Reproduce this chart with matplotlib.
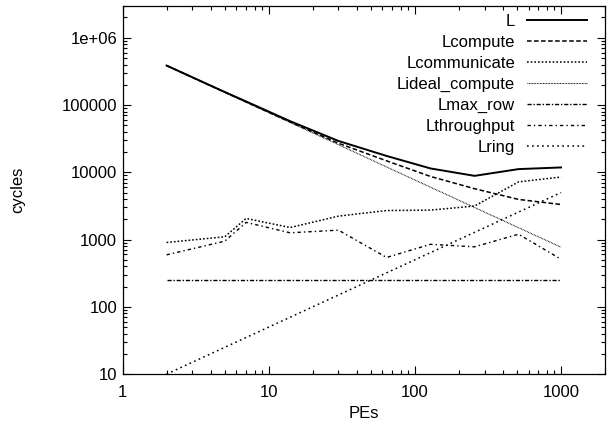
import matplotlib
matplotlib.use("Agg")
import matplotlib.pyplot as plt
from matplotlib.ticker import FixedLocator, LogLocator, NullFormatter

plt.rcParams["font.family"] = ["Liberation Sans", "DejaVu Sans"]

# === Data ===
pes = [2, 5, 7, 14, 30, 64, 128, 256, 512, 1000]
l_total = [386000, 156000, 113000, 57500, 29200, 17500, 11400, 8850, 11150, 11800]
l_compute = [385000, 155000, 111000, 56000, 27000, 14800, 8660, 5700, 3950, 3320]
l_communicate = [905, 1100, 2060, 1510, 2230, 2700, 2740, 3150, 7200, 8500]
l_ideal = [385000, 154000, 110000, 55000, 25700, 12000, 6000, 3000, 1500, 770]
l_max_row = [250, 250, 250, 250, 250, 250, 250, 250, 250, 250]
l_throughput = [593, 946, 1800, 1260, 1380, 542, 850, 780, 1200, 510]
l_ring = [10, 25, 35, 70, 150, 320, 640, 1280, 2560, 5000]

series = [
    ("L", l_total, "-", 1.4),
    ("Lcompute", l_compute, (0, (3.0, 1.6)), 1.1),
    ("Lcommunicate", l_communicate, (0, (1.1, 1.3)), 1.1),
    ("Lideal_compute", l_ideal, (0, (0.7, 0.7)), 0.8),
    ("Lmax_row", l_max_row, (0, (3.0, 1.3, 1.0, 1.3)), 1.0),
    ("Lthroughput", l_throughput, (0, (2.4, 2.2, 1.0, 2.2)), 1.0),
    ("Lring", l_ring, (0, (1.1, 2.2)), 1.1),
]

fs = 12

# === Plot ===
fig = plt.figure(figsize=(6.13, 4.33), dpi=100)
ax = fig.add_axes([0.200, 0.136, 0.787, 0.851])

for label, vals, ls, lw in series:
    ax.plot(pes, vals, color="black", linestyle=ls, linewidth=lw, label=label)

ax.set_xscale("log")
ax.set_yscale("log")
ax.set_xlim(1, 2000)
ax.set_ylim(10, 3e6)

ax.xaxis.set_major_locator(FixedLocator([1, 10, 100, 1000]))
ax.xaxis.set_ticklabels(["1", "10", "100", "1000"])
ax.xaxis.set_minor_locator(LogLocator(base=10, subs=range(2, 10), numticks=20))
ax.xaxis.set_minor_formatter(NullFormatter())

ax.yaxis.set_major_locator(FixedLocator([10, 100, 1000, 10000, 100000, 1000000]))
ax.yaxis.set_ticklabels(["10", "100", "1000", "10000", "100000", "1e+06"])
ax.yaxis.set_minor_locator(LogLocator(base=10, subs=range(2, 10), numticks=20))
ax.yaxis.set_minor_formatter(NullFormatter())

ax.tick_params(which="both", direction="in", top=True, right=True,
               labelsize=fs, width=0.8)
ax.tick_params(axis="y", pad=4)
ax.tick_params(axis="x", pad=8)
ax.tick_params(which="major", length=6)
ax.tick_params(which="minor", length=3)
for sp in ax.spines.values():
    sp.set_linewidth(0.9)

ax.set_xlabel("PEs", fontsize=fs, labelpad=4)
ax.set_ylabel("cycles", fontsize=fs, labelpad=26)

ax.legend(loc="upper right", bbox_to_anchor=(1.0, 1.027), frameon=False,
          markerfirst=False, fontsize=fs, handlelength=3.6, labelspacing=0.36,
          handletextpad=0.7, borderaxespad=0.9, borderpad=0.2)

plt.savefig("out.png", dpi=100)
